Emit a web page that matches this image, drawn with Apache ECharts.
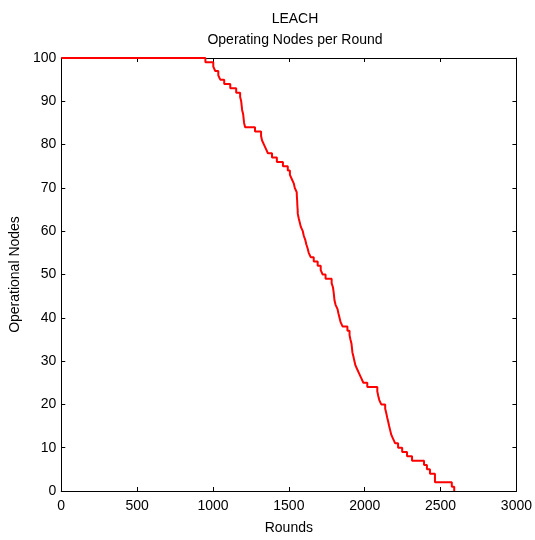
<!DOCTYPE html>
<html>
<head>
<meta charset="utf-8">
<script src="https://cdn.jsdelivr.net/npm/echarts@6/dist/echarts.min.js"></script>
<style>
  html, body { margin: 0; padding: 0; background: #fff; }
  #chart { width: 535px; height: 540px; }
</style>
</head>
<body>
<div id="chart"></div>
<script>
// round at which the alive count drops to the matching value in nodes
const rounds = [0, 950, 1002, 1015, 1035, 1048, 1074, 1114, 1153, 1179, 1186, 1189, 1192, 1199, 1202, 1205, 1212,
  1277, 1317, 1323, 1336, 1349, 1362, 1389, 1421, 1461, 1493, 1507, 1520, 1533, 1539,
  1552, 1553, 1555, 1556, 1558, 1559, 1565, 1572, 1579, 1592, 1598, 1608, 1615, 1624, 1631, 1644,
  1664, 1690, 1710, 1723, 1742, 1782, 1791, 1795, 1798, 1801, 1808, 1821, 1827, 1834, 1841, 1854,
  1886, 1900, 1906, 1913, 1916, 1919, 1926, 1932, 1939, 1952, 1965, 1978, 1991, 2017,
  2083, 2089, 2096, 2109, 2135, 2142, 2148, 2155, 2161, 2168, 2175, 2188, 2201, 2220,
  2247, 2279, 2312, 2391, 2410, 2430, 2463, 2463, 2574, 2590];
const nodes = [100, 99, 98, 97, 96, 95, 94, 93, 92, 91, 90, 89, 88, 87, 86, 85, 84,
  83, 82, 81, 80, 79, 78, 77, 76, 75, 74, 73, 72, 71, 70,
  69, 68, 67, 66, 65, 64, 63, 62, 61, 60, 59, 58, 57, 56, 55, 54,
  53, 52, 51, 50, 49, 48, 47, 46, 45, 44, 43, 42, 41, 40, 39, 38,
  37, 36, 35, 34, 33, 32, 31, 30, 29, 28, 27, 26, 25, 24,
  23, 22, 21, 20, 19, 18, 17, 16, 15, 14, 13, 12, 11, 10,
  9, 8, 7, 6, 5, 4, 3, 2, 1, 0];
const xTicks = [0, 500, 1000, 1500, 2000, 2500, 3000];
const yTicks = [0, 10, 20, 30, 40, 50, 60, 70, 80, 90, 100];

const font = 'Arial, "Liberation Sans", sans-serif';
const chart = echarts.init(document.getElementById('chart'));

const axisCommon = {
  axisLine: { show: true, onZero: false, lineStyle: { color: '#000', width: 1 } },
  axisTick: { show: true, inside: true, length: 4, lineStyle: { color: '#000' } },
  splitLine: { show: false }
};

chart.setOption({
  animation: false,
  backgroundColor: '#fff',
  title: [
    { text: 'LEACH', left: 290, top: 7, textAlign: 'center',
      textStyle: { fontFamily: font, fontSize: 14, fontWeight: 'normal', color: '#000' } },
    { text: 'Operating Nodes per Round', left: 290, top: 28, textAlign: 'center',
      textStyle: { fontFamily: font, fontSize: 14, fontWeight: 'normal', color: '#000' } }
  ],
  grid: { left: 61, right: 16, top: 58, bottom: 45, containLabel: false },
  xAxis: [
    Object.assign({}, axisCommon, {
      type: 'value', position: 'bottom', min: 0, max: 3000, interval: 500,
      name: 'Rounds', nameLocation: 'middle', nameGap: 30,
      nameTextStyle: { fontFamily: font, fontSize: 14, color: '#000' },
      axisLabel: { fontFamily: font, fontSize: 14, color: '#000', margin: 8,
        formatter: v => xTicks.includes(v) ? String(v) : '' }
    }),
    Object.assign({}, axisCommon, {
      type: 'value', position: 'top', min: 0, max: 3000, interval: 500,
      axisLabel: { show: false }
    })
  ],
  yAxis: [
    Object.assign({}, axisCommon, {
      type: 'value', position: 'left', min: 0, max: 100, interval: 10,
      name: 'Operational Nodes', nameLocation: 'middle', nameGap: 35,
      nameTextStyle: { fontFamily: font, fontSize: 14, color: '#000' },
      axisLabel: { fontFamily: font, fontSize: 14, color: '#000', margin: 5,
        formatter: v => yTicks.includes(v) ? String(v) : '' }
    }),
    Object.assign({}, axisCommon, {
      type: 'value', position: 'right', min: 0, max: 100, interval: 10,
      axisLabel: { show: false }
    })
  ],
  series: [{
    type: 'line',
    step: 'end',
    showSymbol: false,
    data: rounds.map((r, i) => [r, nodes[i]]),
    lineStyle: { color: '#ff0000', width: 2 },
    itemStyle: { color: '#ff0000' }
  }]
});
</script>
</body>
</html>
